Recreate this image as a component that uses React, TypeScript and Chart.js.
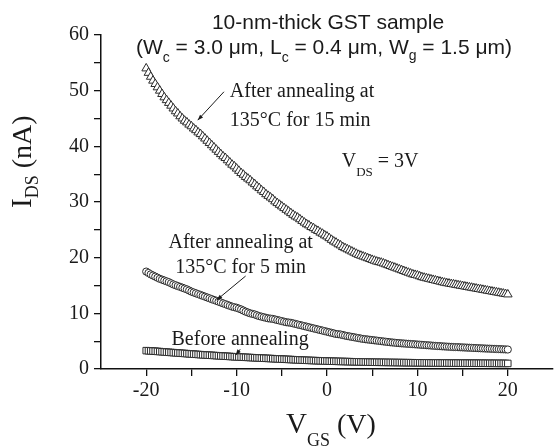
import React, { useEffect, useRef } from 'react';
import { Chart, registerables } from 'chart.js';

Chart.register(...registerables);

// Gate voltage (V)
const VGS = [
  -20, -19.75, -19.5, -19.25, -19, -18.75, -18.5, -18.25,
  -18, -17.75, -17.5, -17.25, -17, -16.75, -16.5, -16.25,
  -16, -15.75, -15.5, -15.25, -15, -14.75, -14.5, -14.25,
  -14, -13.75, -13.5, -13.25, -13, -12.75, -12.5, -12.25,
  -12, -11.75, -11.5, -11.25, -11, -10.75, -10.5, -10.25,
  -10, -9.75, -9.5, -9.25, -9, -8.75, -8.5, -8.25,
  -8, -7.75, -7.5, -7.25, -7, -6.75, -6.5, -6.25,
  -6, -5.75, -5.5, -5.25, -5, -4.75, -4.5, -4.25,
  -4, -3.75, -3.5, -3.25, -3, -2.75, -2.5, -2.25,
  -2, -1.75, -1.5, -1.25, -1, -0.75, -0.5, -0.25,
  0, 0.25, 0.5, 0.75, 1, 1.25, 1.5, 1.75,
  2, 2.25, 2.5, 2.75, 3, 3.25, 3.5, 3.75,
  4, 4.25, 4.5, 4.75, 5, 5.25, 5.5, 5.75,
  6, 6.25, 6.5, 6.75, 7, 7.25, 7.5, 7.75,
  8, 8.25, 8.5, 8.75, 9, 9.25, 9.5, 9.75,
  10, 10.25, 10.5, 10.75, 11, 11.25, 11.5, 11.75,
  12, 12.25, 12.5, 12.75, 13, 13.25, 13.5, 13.75,
  14, 14.25, 14.5, 14.75, 15, 15.25, 15.5, 15.75,
  16, 16.25, 16.5, 16.75, 17, 17.25, 17.5, 17.75,
  18, 18.25, 18.5, 18.75, 19, 19.25, 19.5, 19.75,
  20,
];

// I_DS (nA) after annealing at 135 C for 15 min (triangles)
const AFTER_15MIN = [
  54.0, 53.2, 52.5, 51.8, 51.2, 50.6, 50.0, 49.4,
  48.8, 48.3, 47.8, 47.3, 46.8, 46.3, 45.9, 45.4,
  45.0, 44.6, 44.3, 43.9, 43.6, 43.2, 42.9, 42.5,
  42.2, 41.8, 41.4, 41.0, 40.6, 40.2, 39.8, 39.4,
  39.0, 38.6, 38.2, 37.9, 37.5, 37.1, 36.7, 36.4,
  36.0, 35.6, 35.2, 34.9, 34.5, 34.2, 33.9, 33.5,
  33.2, 32.8, 32.5, 32.1, 31.8, 31.4, 31.1, 30.8,
  30.5, 30.1, 29.8, 29.5, 29.2, 28.9, 28.6, 28.3,
  28.0, 27.7, 27.4, 27.2, 26.9, 26.6, 26.3, 26.0,
  25.8, 25.5, 25.3, 25.0, 24.8, 24.5, 24.3, 24.0,
  23.8, 23.5, 23.2, 22.9, 22.7, 22.4, 22.2, 21.9,
  21.7, 21.5, 21.3, 21.1, 20.9, 20.7, 20.5, 20.35,
  20.2, 20.05, 19.9, 19.75, 19.6, 19.45, 19.3, 19.2,
  19.1, 18.95, 18.8, 18.65, 18.5, 18.35, 18.2, 18.05,
  17.9, 17.75, 17.6, 17.45, 17.3, 17.15, 17.0, 16.9,
  16.8, 16.65, 16.5, 16.4, 16.3, 16.2, 16.1, 16.0,
  15.9, 15.8, 15.7, 15.6, 15.5, 15.42, 15.35, 15.27,
  15.2, 15.12, 15.05, 14.97, 14.9, 14.82, 14.75, 14.67,
  14.6, 14.52, 14.45, 14.37, 14.3, 14.22, 14.15, 14.07,
  14.0, 13.92, 13.85, 13.77, 13.7, 13.62, 13.55, 13.47,
  13.4,
];

// I_DS (nA) after annealing at 135 C for 5 min (circles)
const AFTER_5MIN = [
  17.5, 17.25, 17.0, 16.8, 16.6, 16.4, 16.2, 16.05,
  15.9, 15.75, 15.6, 15.4, 15.2, 15.05, 14.9, 14.75,
  14.6, 14.45, 14.3, 14.1, 13.9, 13.75, 13.6, 13.45,
  13.3, 13.15, 13.0, 12.85, 12.7, 12.55, 12.4, 12.25,
  12.1, 11.95, 11.8, 11.65, 11.5, 11.35, 11.2, 11.1,
  11.0, 10.85, 10.7, 10.5, 10.3, 10.15, 10.0, 9.9,
  9.8, 9.65, 9.5, 9.4, 9.3, 9.2, 9.1, 9.05,
  9.0, 8.9, 8.8, 8.7, 8.6, 8.5, 8.4, 8.35,
  8.3, 8.2, 8.1, 8.0, 7.9, 7.8, 7.7, 7.6,
  7.5, 7.4, 7.3, 7.2, 7.1, 7.0, 6.9, 6.8,
  6.7, 6.6, 6.5, 6.4, 6.3, 6.25, 6.2, 6.1,
  6.0, 5.92, 5.85, 5.77, 5.7, 5.62, 5.55, 5.47,
  5.4, 5.35, 5.3, 5.25, 5.2, 5.15, 5.1, 5.05,
  5.0, 4.95, 4.9, 4.85, 4.8, 4.76, 4.72, 4.68,
  4.65, 4.61, 4.58, 4.55, 4.52, 4.49, 4.46, 4.43,
  4.4, 4.37, 4.34, 4.31, 4.28, 4.25, 4.22, 4.18,
  4.15, 4.12, 4.1, 4.07, 4.05, 4.02, 4.0, 3.97,
  3.95, 3.93, 3.92, 3.9, 3.88, 3.86, 3.84, 3.82,
  3.8, 3.78, 3.76, 3.74, 3.72, 3.7, 3.68, 3.66,
  3.65, 3.63, 3.61, 3.59, 3.57, 3.55, 3.54, 3.52,
  3.5,
];

// I_DS (nA) before annealing (squares)
const BEFORE = [
  3.3, 3.27, 3.25, 3.22, 3.2, 3.16, 3.13, 3.1,
  3.07, 3.03, 3.0, 2.97, 2.94, 2.91, 2.88, 2.85,
  2.82, 2.79, 2.76, 2.73, 2.7, 2.67, 2.64, 2.61,
  2.58, 2.55, 2.53, 2.5, 2.48, 2.45, 2.43, 2.4,
  2.38, 2.35, 2.33, 2.3, 2.28, 2.25, 2.23, 2.2,
  2.18, 2.16, 2.14, 2.12, 2.1, 2.08, 2.06, 2.04,
  2.02, 2.0, 1.98, 1.96, 1.94, 1.92, 1.9, 1.88,
  1.86, 1.84, 1.82, 1.8, 1.78, 1.76, 1.74, 1.72,
  1.7, 1.68, 1.66, 1.64, 1.62, 1.6, 1.58, 1.56,
  1.55, 1.53, 1.52, 1.5, 1.49, 1.47, 1.46, 1.44,
  1.43, 1.41, 1.4, 1.39, 1.38, 1.37, 1.36, 1.35,
  1.34, 1.33, 1.32, 1.31, 1.3, 1.29, 1.28, 1.27,
  1.26, 1.25, 1.24, 1.23, 1.22, 1.21, 1.21, 1.2,
  1.2, 1.19, 1.19, 1.18, 1.18, 1.17, 1.17, 1.16,
  1.16, 1.15, 1.15, 1.14, 1.14, 1.13, 1.13, 1.12,
  1.12, 1.11, 1.11, 1.1, 1.1, 1.09, 1.09, 1.08,
  1.08, 1.08, 1.08, 1.07, 1.07, 1.07, 1.07, 1.06,
  1.06, 1.06, 1.06, 1.05, 1.05, 1.05, 1.05, 1.04,
  1.04, 1.04, 1.04, 1.03, 1.03, 1.03, 1.03, 1.02,
  1.02, 1.02, 1.02, 1.01, 1.01, 1.01, 1.01, 1.0,
  1.0,
];

const X_TICK_LABELS = [-20, -10, 0, 10, 20];
const Y_TICK_LABELS = [0, 10, 20, 30, 40, 50, 60];

const SERIF = '"Liberation Serif", "Times New Roman", serif';
const SANS = '"Liberation Sans", Arial, sans-serif';
const INK = '#1a1a1a';

type Run = [string, number, string, number];

function runsWidth(ctx: CanvasRenderingContext2D, runs: Run[]) {
  let w = 0;
  for (const [t, s, f] of runs) {
    ctx.font = `${s}px ${f}`;
    w += ctx.measureText(t).width;
  }
  return w;
}

function drawRuns(ctx: CanvasRenderingContext2D, x: number, y: number, runs: Run[], align: 'left' | 'center' = 'left') {
  let cx = align === 'center' ? x - runsWidth(ctx, runs) / 2 : x;
  ctx.textAlign = 'left';
  ctx.textBaseline = 'alphabetic';
  for (const [t, s, f, dy] of runs) {
    ctx.font = `${s}px ${f}`;
    ctx.fillText(t, cx, y + dy);
    cx += ctx.measureText(t).width;
  }
}

function arrow(ctx: CanvasRenderingContext2D, x1: number, y1: number, x2: number, y2: number) {
  ctx.beginPath();
  ctx.moveTo(x1, y1);
  ctx.lineTo(x2, y2);
  ctx.lineWidth = 1;
  ctx.strokeStyle = INK;
  ctx.stroke();
  const a = Math.atan2(y2 - y1, x2 - x1);
  const L = 6;
  const w = 0.35;
  ctx.beginPath();
  ctx.moveTo(x2, y2);
  ctx.lineTo(x2 - L * Math.cos(a - w), y2 - L * Math.sin(a - w));
  ctx.lineTo(x2 - L * Math.cos(a + w), y2 - L * Math.sin(a + w));
  ctx.closePath();
  ctx.fillStyle = INK;
  ctx.fill();
}

const textPlugin = {
  id: 'texts',
  afterDraw(chart: any) {
    const ctx: CanvasRenderingContext2D = chart.ctx;
    const xs = chart.scales.x;
    const ys = chart.scales.y;
    const px = (v: number) => xs.getPixelForValue(v);
    const py = (v: number) => ys.getPixelForValue(v);
    ctx.save();
    ctx.fillStyle = INK;

    // Title
    drawRuns(ctx, 328, 28.5, [['10-nm-thick GST sample', 21, SANS, 0]], 'center');
    drawRuns(ctx, 324, 54, [
      ['(W', 21, SANS, 0],
      ['c', 14, SANS, 7.5],
      [' = 3.0 \u03bcm, L', 21, SANS, 0],
      ['c', 14, SANS, 7.5],
      [' = 0.4 \u03bcm, W', 21, SANS, 0],
      ['g', 14, SANS, 6],
      [' = 1.5 \u03bcm)', 21, SANS, 0],
    ], 'center');

    // Axis titles
    drawRuns(ctx, 286, 433, [
      ['V', 29, SERIF, 0],
      ['GS', 18, SERIF, 13],
      [' (V)', 28, SERIF, 0],
    ]);
    ctx.save();
    ctx.translate(31, 208);
    ctx.rotate(-Math.PI / 2);
    drawRuns(ctx, 0, 0, [
      ['I', 29, SERIF, 0],
      ['DS', 18, SERIF, 7],
      [' (nA)', 28, SERIF, 0],
    ]);
    ctx.restore();

    // Annotations
    ctx.fillStyle = INK;
    drawRuns(ctx, px(-10.75), py(48.9), [['After annealing at', 20, SERIF, 0]]);
    drawRuns(ctx, px(-10.75), py(43.6), [['135\u00b0C for 15 min', 20, SERIF, 0]]);
    arrow(ctx, px(-11.4), py(49.8), px(-14.3), py(44.7));

    ctx.fillStyle = INK;
    drawRuns(ctx, px(1.63), py(36.3), [
      ['V', 20, SERIF, 0],
      ['DS', 13, SERIF, 9],
      [' = 3V', 20, SERIF, 0],
    ]);

    ctx.fillStyle = INK;
    drawRuns(ctx, px(-9.55), py(21.7), [['After annealing at', 20, SERIF, 0]], 'center');
    drawRuns(ctx, px(-9.55), py(17.2), [['135\u00b0C for 5 min', 20, SERIF, 0]], 'center');
    arrow(ctx, px(-9.0), py(16.7), px(-12.2), py(12.4));

    ctx.fillStyle = INK;
    drawRuns(ctx, px(-17.2), py(4.3), [['Before annealing', 20, SERIF, 0]]);
    arrow(ctx, px(-9.6), py(3.55), px(-10.1), py(2.5));

    ctx.restore();
  },
};

export default function App() {
  const ref = useRef<HTMLCanvasElement | null>(null);

  useEffect(() => {
    if (!ref.current) return;
    const mk = (arr: number[]) => VGS.map((x, i) => ({ x, y: arr[i] }));
    const common = {
      borderColor: '#2b2b2b',
      backgroundColor: '#ffffff',
      borderWidth: 1,
      showLine: false,
    };
    const chart = new Chart(ref.current, {
      type: 'scatter',
      data: {
        datasets: [
          { label: 'Before annealing', data: mk(BEFORE), pointStyle: 'rect', pointRadius: 4.6, ...common },
          { label: 'After annealing at 135\u00b0C for 5 min', data: mk(AFTER_5MIN), pointStyle: 'circle', pointRadius: 3.6, ...common },
          { label: 'After annealing at 135\u00b0C for 15 min', data: mk(AFTER_15MIN), pointStyle: 'triangle', pointRadius: 5, ...common },
        ],
      },
      options: {
        responsive: false,
        animation: false,
        events: [],
        layout: { padding: { top: 35, right: 0, left: 0, bottom: 0 } },
        plugins: {
          legend: { display: false },
          tooltip: { enabled: false },
          title: { display: false },
        },
        scales: {
          x: {
            type: 'linear',
            min: -25,
            max: 25,
            afterFit: (s: any) => { s.height = 79; },
            border: { display: true, color: '#111', width: 1.5 },
            grid: {
              drawOnChartArea: false,
              drawTicks: true,
              tickLength: 7,
              color: (c: any) => (Math.abs(c.tick?.value) > 20 ? 'rgba(0,0,0,0)' : '#111'),
              lineWidth: 1.3,
            },
            ticks: {
              stepSize: 5,
              autoSkip: false,
              maxRotation: 0,
              padding: 3,
              color: INK,
              font: { family: SERIF, size: 20 },
              callback: (v: any) => (X_TICK_LABELS.includes(Number(v)) ? String(v) : ''),
            },
          },
          y: {
            type: 'linear',
            min: 0,
            max: 60,
            afterFit: (s: any) => { s.width = 101; },
            border: { display: true, color: '#111', width: 1.5 },
            grid: {
              drawOnChartArea: false,
              drawTicks: true,
              tickLength: 7,
              color: '#111',
              lineWidth: 1.3,
            },
            ticks: {
              stepSize: 5,
              autoSkip: false,
              padding: 5,
              color: INK,
              font: { family: SERIF, size: 20 },
              callback: (v: any) => (Y_TICK_LABELS.includes(Number(v)) ? String(v) : ''),
            },
          },
        },
      },
      plugins: [textPlugin],
    });
    return () => chart.destroy();
  }, []);

  return (
    <div style={{ position: 'fixed', left: 0, top: 0, width: 559, height: 448, background: '#fff' }}>
      <canvas ref={ref} width={559} height={448} style={{ width: 559, height: 448, display: 'block' }} />
    </div>
  );
}
